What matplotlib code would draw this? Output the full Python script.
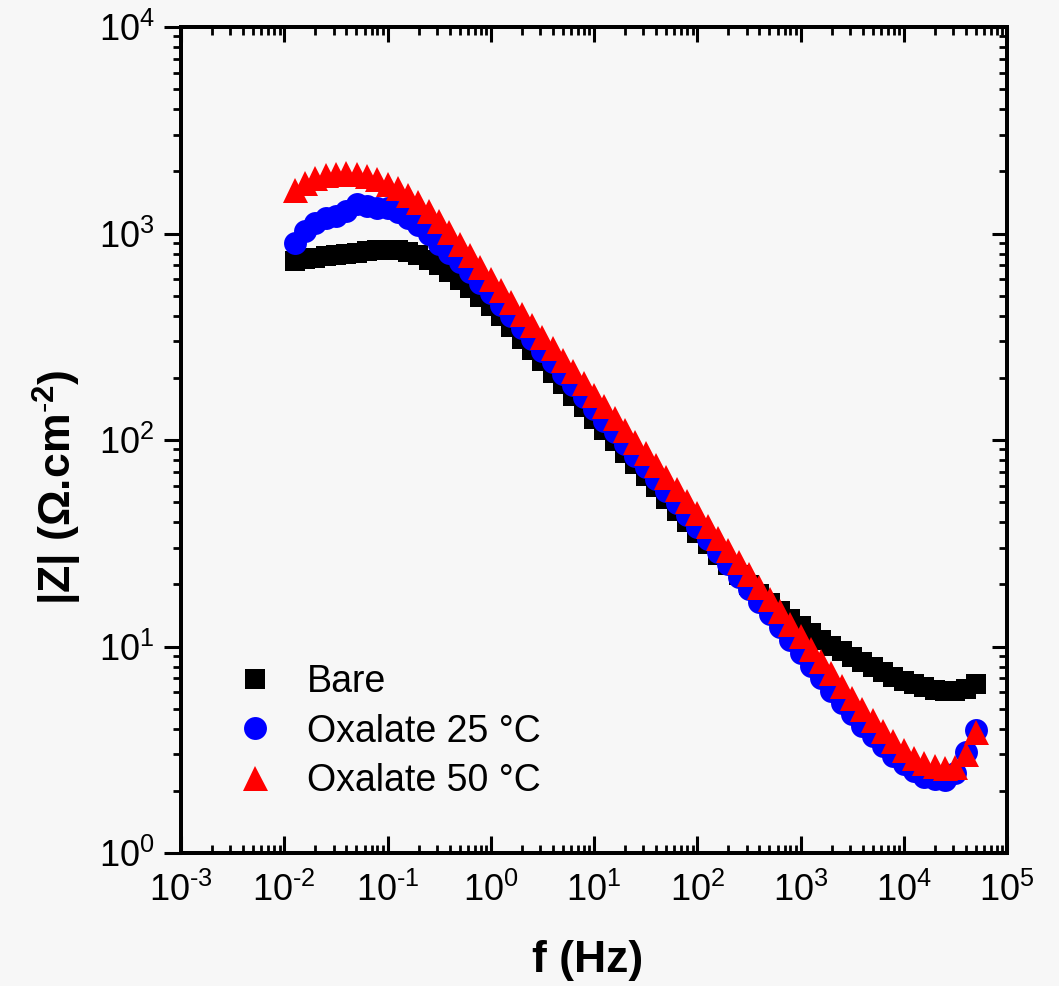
import numpy as np
import matplotlib
matplotlib.use("Agg")
import matplotlib.pyplot as plt
from matplotlib.ticker import LogLocator, NullFormatter, FuncFormatter

plt.rcParams['font.family'] = ['Liberation Sans', 'DejaVu Sans']
plt.rcParams['mathtext.fontset'] = 'custom'
plt.rcParams['mathtext.rm'] = 'Liberation Sans'
plt.rcParams['mathtext.bf'] = 'Liberation Sans:bold'
plt.rcParams['mathtext.default'] = 'regular'

# ---------------- data ----------------
freq = [0.01259, 0.01585, 0.01995, 0.02512, 0.03162, 0.03981, 0.05012, 0.0631, 0.07943,
        0.1, 0.1259, 0.1585, 0.1995, 0.2512, 0.3162, 0.3981, 0.5012, 0.631, 0.7943,
        1.0, 1.259, 1.585, 1.995, 2.512, 3.162, 3.981, 5.012, 6.31, 7.943,
        10, 12.59, 15.85, 19.95, 25.12, 31.62, 39.81, 50.12, 63.1, 79.43,
        100, 125.9, 158.5, 199.5, 251.2, 316.2, 398.1, 501.2, 631, 794.3,
        1000, 1259, 1585, 1995, 2512, 3162, 3981, 5012, 6310, 7943,
        10000, 12590, 15850, 19950, 25120, 31620, 39810, 50120]

z_bare = [736, 750, 762, 776, 787, 800, 809, 820, 828,
          832, 828, 813, 785, 746, 700, 649, 596, 543, 493,
          447, 398, 351, 309, 272, 240, 211, 186, 164, 145,
          127, 112, 98.6, 86.7, 76.2, 67.0, 58.9, 51.8, 45.5, 40.0,
          35.3, 31.3, 27.7, 24.7, 22.1, 19.9, 17.9, 16.3, 14.9, 13.6,
          12.6, 11.6, 10.8, 10.1, 9.46, 8.91, 8.41, 7.94, 7.52, 7.14,
          6.82, 6.55, 6.34, 6.19, 6.11, 6.11, 6.25, 6.58]

z_ox25 = [895, 1028, 1122, 1189, 1216, 1288, 1396, 1365, 1334,
          1334, 1274, 1189, 1096, 989, 887, 804, 724, 649, 578,
          515, 453, 398, 350, 308, 270, 238, 209, 184, 161,
          142, 124, 109, 95.7, 83.9, 73.6, 64.4, 56.4, 49.3, 43.2,
          37.8, 33.0, 28.8, 25.1, 21.8, 19.0, 16.4, 14.3, 12.4, 10.7,
          9.29, 8.05, 7.00, 6.10, 5.33, 4.69, 4.14, 3.67, 3.28, 2.96,
          2.69, 2.49, 2.34, 2.27, 2.26, 2.43, 3.08, 3.94]

z_ox50 = [1622, 1758, 1854, 1914, 1950, 1959, 1941, 1897, 1828,
          1746, 1652, 1542, 1419, 1288, 1148, 1012, 891, 785, 692,
          603, 530, 466, 409, 360, 316, 278, 244, 215, 189,
          166, 146, 128, 112, 98.2, 86.1, 75.3, 65.9, 57.7, 50.5,
          44.2, 38.5, 33.7, 29.4, 25.6, 22.4, 19.5, 17.0, 14.8, 12.9,
          11.2, 9.77, 8.51, 7.41, 6.46, 5.65, 4.97, 4.39, 3.89, 3.48,
          3.15, 2.90, 2.73, 2.63, 2.59, 2.62, 3.02, 3.85]

labels = ['Bare', 'Oxalate 25 °C', 'Oxalate 50 °C']

# ---------------- figure ----------------
W, H = 1059, 986
fig = plt.figure(figsize=(W / 100, H / 100), dpi=100)
bg = '#f7f7f7'
fig.patch.set_facecolor(bg)
x0, x1, y0, y1 = 181, 1007, 27, 853
ax = fig.add_axes([x0 / W, 1 - y1 / H, (x1 - x0) / W, (y1 - y0) / H])
ax.set_facecolor(bg)

ax.plot(freq, z_bare, ls='none', marker='s', ms=13.8, color='black', mec='black', mew=0, label=labels[0])
ax.plot(freq, z_ox25, ls='none', marker='o', ms=16.5, color='#0000ff', mec='#0000ff', mew=0, label=labels[1])
ax.plot(freq, z_ox50, ls='none', marker='^', ms=18, color='#ff0000', mec='#ff0000', mew=0, label=labels[2])

ax.set_xscale('log')
ax.set_yscale('log')
ax.set_xlim(1e-3, 1e5)
ax.set_ylim(1e0, 1e4)


def dec_label(v, p):
    e = int(round(np.log10(v)))
    if e < 0:
        return r'$10^{\text{-}%d}$' % (-e)
    return r'$10^{%d}$' % e


fmt = FuncFormatter(dec_label)
ax.xaxis.set_major_locator(LogLocator(base=10, numticks=20))
ax.xaxis.set_minor_locator(LogLocator(base=10, subs=np.arange(2, 10), numticks=200))
ax.yaxis.set_major_locator(LogLocator(base=10, numticks=20))
ax.yaxis.set_minor_locator(LogLocator(base=10, subs=np.arange(2, 10), numticks=200))
ax.xaxis.set_major_formatter(fmt)
ax.yaxis.set_major_formatter(fmt)
ax.xaxis.set_minor_formatter(NullFormatter())
ax.yaxis.set_minor_formatter(NullFormatter())

for s in ax.spines.values():
    s.set_linewidth(2.8)

ax.tick_params(axis='x', which='major', direction='in', length=12, width=2.2, labelsize=26, pad=14)
ax.tick_params(axis='x', which='minor', direction='in', length=5.5, width=2.0)
ax.tick_params(axis='y', which='major', direction='out', length=12, width=2.2, labelsize=26, pad=7)
ax.tick_params(axis='y', which='minor', direction='out', length=5.5, width=2.0)

# top and right ticks pointing inward
axt = ax.twiny()
axt.set_xscale('log')
axt.set_xlim(ax.get_xlim())
axt.xaxis.set_major_locator(LogLocator(base=10, numticks=20))
axt.xaxis.set_minor_locator(LogLocator(base=10, subs=np.arange(2, 10), numticks=200))
axt.tick_params(axis='x', which='major', direction='in', length=11, width=2.2, labeltop=False)
axt.tick_params(axis='x', which='minor', direction='in', length=5.5, width=2.0, labeltop=False)
axt.xaxis.set_major_formatter(NullFormatter())
axt.xaxis.set_minor_formatter(NullFormatter())

axr = ax.twinx()
axr.set_yscale('log')
axr.set_ylim(ax.get_ylim())
axr.yaxis.set_major_locator(LogLocator(base=10, numticks=20))
axr.yaxis.set_minor_locator(LogLocator(base=10, subs=np.arange(2, 10), numticks=200))
axr.tick_params(axis='y', which='major', direction='in', length=11, width=2.2, labelright=False)
axr.tick_params(axis='y', which='minor', direction='in', length=5.5, width=2.0, labelright=False)
axr.yaxis.set_major_formatter(NullFormatter())
axr.yaxis.set_minor_formatter(NullFormatter())
for a in (axt, axr):
    for s in a.spines.values():
        s.set_linewidth(2.8)

ax.set_xlabel('f (Hz)', fontsize=32, fontweight='bold')
ax.set_ylabel(r'|Z| ($\Omega$.cm$^{\text{-}2}$)', fontsize=32, fontweight='bold')
ax.xaxis.set_label_coords((588 - x0) / (x1 - x0), -(940 - y1) / (y1 - y0))
ax.yaxis.set_label_coords(-(x0 - 84) / (x1 - x0), 1 - (487 - y0) / (y1 - y0))
ax.xaxis.label.set_va('top')

leg = ax.legend(loc='upper left', bbox_to_anchor=(236 / W, 1 - 664 / H),
                bbox_transform=fig.transFigure, frameon=False, fontsize=27,
                handlelength=1.0, handletextpad=0.9, labelspacing=0.36,
                borderpad=0, borderaxespad=0, numpoints=1)

fig.savefig('out.png', dpi=100, facecolor=fig.get_facecolor())
